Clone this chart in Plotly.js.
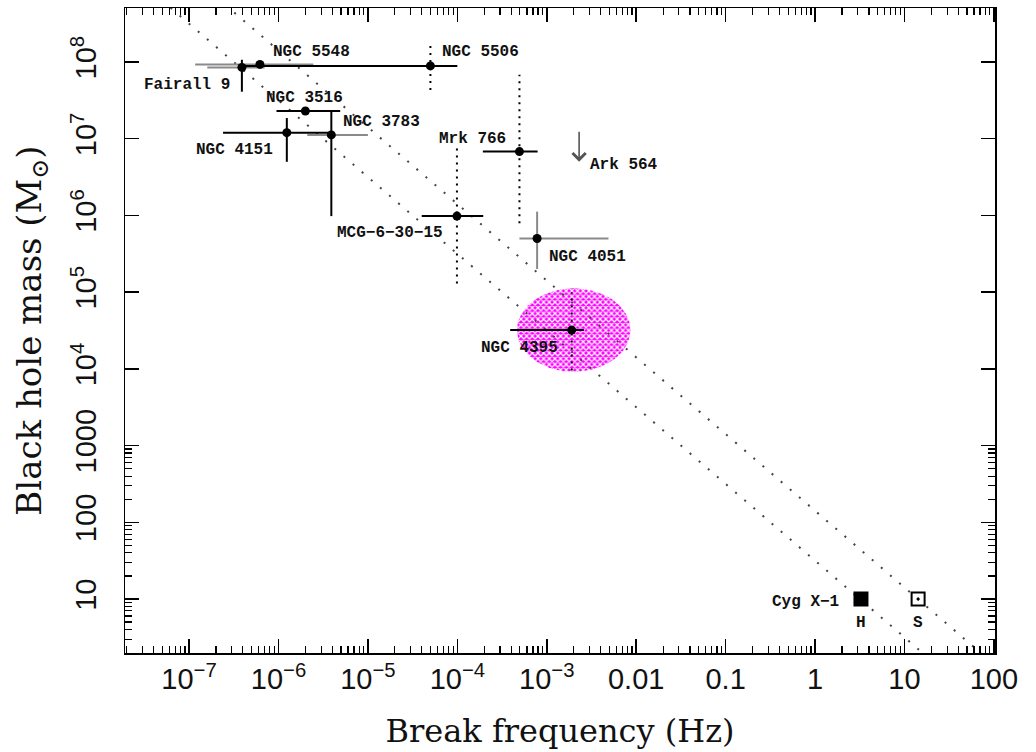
<!DOCTYPE html>
<html><head><meta charset="utf-8">
<script src="https://cdn.plot.ly/plotly-3.0.1.min.js"></script>
<style>html,body{margin:0;padding:0;background:#fff}#chart{width:1036px;height:752px}</style>
</head><body><div id="chart"></div>
<script>
// ---------------- DATA ----------------
const names   = ['Fairall 9','NGC 5548','NGC 5506','NGC 3516','NGC 4151','NGC 3783','MCG\u22126\u221230\u221215','Mrk 766','NGC 4051','NGC 4395'];
const freq    = [3.9e-7, 6.2e-7, 5.0e-5, 2.0e-6, 1.24e-6, 3.9e-6, 9.9e-5, 4.95e-4, 7.8e-4, 1.9e-3];   // Hz
const mass    = [8.5e7, 9.3e7, 8.9e7, 2.3e7, 1.2e7, 1.12e7, 9.8e5, 6.8e6, 5.0e5, 3.2e4];              // Msun
const freqLo  = [1.6e-7, 1.17e-7, 3.8e-7, 9.5e-7, 2.4e-7, 2.1e-6, 4.0e-5, 1.93e-4, 4.95e-4, 3.9e-4];
const freqHi  = [7.0e-7, 2.45e-6, 1.0e-4, 4.9e-6, 4.1e-6, 1.0e-5, 1.95e-4, 7.9e-4, 4.9e-3, 2.6e-3];
const freqErrKind = ['alt','alt','main','main','main','alt','main','main','alt','main'];
const massLo  = [4.1e7, null, 4.3e7, null, 5.0e6, 9.8e5, 1.3e5, 7.9e5, 2.0e5, 9.5e3];
const massHi  = [1.07e8, null, 1.74e8, null, 1.86e7, 2.3e7, 8.3e6, 6.8e7, 1.12e6, 1.0e5];
const massErrKind = ['rev', null, 'est', null, 'rev', 'rev', 'est', 'est', 'alt', 'est'];

// Ark 564 : upper limit on mass
const ark564Freq = 2.3e-3;
const ark564MassLimit = 1.29e7;

// Cyg X-1 : hard (H) and soft (S) states
const cygStates = ['H','S'];
const cygFreq = [3.26, 14.2];
const cygMass = [10, 10];

// NGC 4395 error region (log-space ellipse): centre and semi-axes in dex
const ngc4395Region = {freq: 2.0e-3, mass: 3.2e4, dexF: 0.634, dexM: 0.544};

// scaling relations  M * f = const
const relationConst = [Math.pow(10,1.5), Math.pow(10,2.15)];

// axis ticks
const xTickVals = [1e-7,1e-6,1e-5,1e-4,1e-3,0.01,0.1,1,10,100];
const xTickText = ['10<sup>\u22127</sup>','10<sup>\u22126</sup>','10<sup>\u22125</sup>','10<sup>\u22124</sup>','10<sup>\u22123</sup>','0.01','0.1','1','10','100'];
const yTickVals = [10,100,1000,1e4,1e5,1e6,1e7,1e8];
const yTickText = ['10','100','1000','10<sup>4</sup>','10<sup>5</sup>','10<sup>6</sup>','10<sup>7</sup>','10<sup>8</sup>'];

// ---------------- BUILD ----------------
const XR = [-7.716, 2.012], YR = [0.296, 8.704];
const LBL = {family:'Liberation Mono, Courier New, monospace', size:16, color:'#111', weight:'bold'};
const traces = [];

// ellipse
(function(){
  const ex=[], ey=[];
  const cx=Math.log10(ngc4395Region.freq), cy=Math.log10(ngc4395Region.mass);
  for(let i=0;i<=120;i++){const t=2*Math.PI*i/120;
    ex.push(Math.pow(10,cx+ngc4395Region.dexF*Math.cos(t)));
    ey.push(Math.pow(10,cy+ngc4395Region.dexM*Math.sin(t)));}
  traces.push({x:ex,y:ey,mode:'lines',fill:'toself',line:{width:0,color:'rgba(0,0,0,0)'},
    fillcolor:'#ff00ff',
    fillpattern:{shape:'x',bgcolor:'#ff00ff',fgcolor:'#ffffff',size:4,solidity:0.5},
    hoverinfo:'skip',showlegend:false});
})();

// relation lines
relationConst.forEach(c=>{
  const x0=Math.pow(10,XR[0]), x1=Math.pow(10,XR[1]);
  traces.push({x:[x0,x1],y:[c/x0,c/x1],mode:'lines',line:{color:'#444',width:2,dash:'2px,10px'},hoverinfo:'skip',showlegend:false});
});

// error bars
const hColor = {main:'#000', alt:'#8a8a8a'};
const vStyle = {rev:{color:'#000',dash:'solid'}, est:{color:'#000',dash:'2px,5px'}, alt:{color:'#8a8a8a',dash:'solid'}};
names.forEach((n,i)=>{
  traces.push({x:[freqLo[i],freqHi[i]],y:[mass[i],mass[i]],mode:'lines',
    line:{color:hColor[freqErrKind[i]],width:2},hoverinfo:'skip',showlegend:false});
  if(massErrKind[i]){
    const s=vStyle[massErrKind[i]];
    traces.push({x:[freq[i],freq[i]],y:[massLo[i],massHi[i]],mode:'lines',
      line:{color:s.color,width:2,dash:s.dash},hoverinfo:'skip',showlegend:false});
  }
});

// points
traces.push({x:freq,y:mass,text:names,mode:'markers',marker:{color:'#000',size:9,symbol:'circle'},showlegend:false});
traces.push({x:cygFreq,y:cygMass,text:cygStates,mode:'markers',
  marker:{color:'#000',size:13,symbol:['square','square-open-dot'],line:{color:'#000',width:2}},showlegend:false});

// labels (offsets in px relative to each point)
const lblOff = {
  'Fairall 9':[-10,-18,'right'], 'NGC 5548':[11,12,'left'], 'NGC 5506':[10,14,'left'],
  'NGC 3516':[-1,13,'center'], 'NGC 4151':[-12,-17,'right'], 'NGC 3783':[10,13,'left'],
  'MCG\u22126\u221230\u221215':[-12,-17,'right'], 'Mrk 766':[-11,13,'right'],
  'NGC 4051':[10,-18,'left'], 'NGC 4395':[-12,-18,'right']
};
const annotations = [];
names.forEach((n,i)=>{
  const o=lblOff[n];
  annotations.push({x:Math.log10(freq[i]),y:Math.log10(mass[i]),xref:'x',yref:'y',text:n,showarrow:false,
    xanchor:o[2],yanchor:'middle',xshift:o[0],yshift:o[1],font:LBL});
});
// Ark 564 arrow + label
const arrowDex = 0.41;
annotations.push({x:Math.log10(ark564Freq),y:Math.log10(ark564MassLimit)-arrowDex,xref:'x',yref:'y',
  ax:Math.log10(ark564Freq),ay:Math.log10(ark564MassLimit),axref:'x',ayref:'y',
  showarrow:true,arrowhead:4,arrowsize:1.6,arrowwidth:1.6,arrowcolor:'#555',text:''});
annotations.push({x:Math.log10(ark564Freq),y:Math.log10(ark564MassLimit)-arrowDex,xref:'x',yref:'y',text:'Ark 564',
  showarrow:false,xanchor:'left',yanchor:'middle',xshift:9,yshift:-3,font:LBL});
// Cyg X-1
annotations.push({x:Math.log10(cygFreq[0]),y:Math.log10(cygMass[0]),xref:'x',yref:'y',text:'Cyg X\u22121',
  showarrow:false,xanchor:'right',yanchor:'middle',xshift:-20,yshift:-3,font:LBL});
cygStates.forEach((s,i)=>annotations.push({x:Math.log10(cygFreq[i]),y:Math.log10(cygMass[i]),xref:'x',yref:'y',
  text:s,showarrow:false,xanchor:'center',yanchor:'middle',yshift:-24,font:LBL}));

// minor ticks
const minorX=[], minorY=[];
for(let d=-8; d<=2; d++) for(let k=2;k<=9;k++){ minorX.push(k*Math.pow(10,d)); minorY.push(k*Math.pow(10,d)); }

const axisCommon = {type:'log',showline:true,linecolor:'#000',linewidth:1.5,mirror:'ticks',
  ticks:'inside',ticklen:14,tickwidth:1.5,tickcolor:'#000',showgrid:false,zeroline:false,
  tickmode:'array',tickfont:{family:'Liberation Sans, Arial, sans-serif',size:29,color:'#111'},
  minor:{ticks:'inside',ticklen:7,tickwidth:1.2,tickcolor:'#000',showgrid:false,tickmode:'array'}};

const layout = {
  width:1036,height:752,paper_bgcolor:'#fff',plot_bgcolor:'#fff',
  margin:{l:125,r:41,t:8,b:99},showlegend:false,
  xaxis:Object.assign({},axisCommon,{range:XR,tickvals:xTickVals,ticktext:xTickText,
    minor:Object.assign({},axisCommon.minor,{tickvals:minorX}),
    title:{text:'Break frequency (Hz)',font:{family:'DejaVu Serif, serif',size:32,color:'#111'},standoff:25}}),
  yaxis:Object.assign({},axisCommon,{range:YR,tickvals:yTickVals,ticktext:yTickText,tickangle:-90,
    ticklabelstandoff:16,
    minor:Object.assign({},axisCommon.minor,{tickvals:minorY}),
    title:{text:'Black hole mass (M<sub>\u2299</sub>)',font:{family:'DejaVu Serif, serif',size:34,color:'#111'},standoff:14}}),
  annotations:annotations
};
Plotly.newPlot('chart',traces,layout,{displayModeBar:false,staticPlot:true});
</script></body></html>
